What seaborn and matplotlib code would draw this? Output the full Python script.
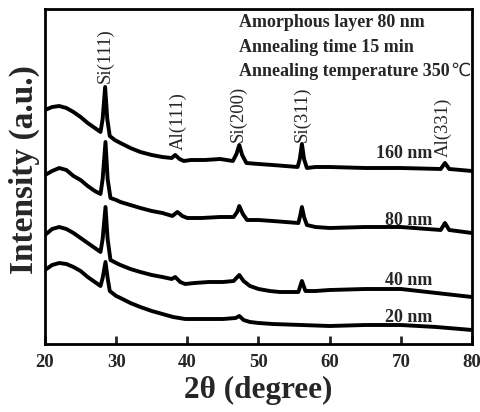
import numpy as np
import pandas as pd
import matplotlib
matplotlib.use("Agg")
import matplotlib.pyplot as plt
import seaborn as sns
from matplotlib.transforms import offset_copy

# ---- data (intensities in arbitrary units) ----
tt_160 = [20.0, 21.0, 22.0, 23.0, 24.0, 25.0, 26.0, 27.0, 27.8, 28.1, 28.45, 28.75, 29.1, 29.8,
          30.6, 32.0, 33.4, 35.0, 36.5, 37.8, 38.3, 38.9, 39.5, 40.5, 42.5, 44.6, 46.4, 46.9,
          47.3, 47.7, 48.3, 50.0, 52.0, 55.5, 55.8, 56.1, 56.4, 56.8, 58.0, 60.0, 65.0, 70.0,
          75.6, 76.2, 76.8, 80.0]
i_160 = [234, 237, 238, 236, 232, 227, 221, 216, 212, 225, 257, 225, 208, 204,
         201, 196, 192, 189, 187, 186, 189, 185, 183, 184, 184, 185, 183, 190,
         199, 189, 181, 180, 179, 177, 185, 200, 185, 176, 177, 177, 176, 176,
         175, 181, 175, 173]

tt_80 = [20.0, 21.0, 22.0, 23.0, 24.0, 25.0, 26.0, 27.0, 27.8, 28.1, 28.5, 28.8, 29.2, 30.0,
         30.6, 32.0, 33.4, 35.0, 36.5, 37.9, 38.6, 39.3, 40.0, 42.0, 44.6, 46.5, 47.0, 47.3,
         47.8, 48.4, 50.0, 52.0, 55.6, 55.85, 56.1, 56.4, 56.8, 58.0, 60.0, 65.0, 70.0, 75.6,
         76.2, 76.8, 80.0]
i_80 = [169, 173, 176, 174, 168, 164, 158, 153, 150, 165, 202, 165, 146, 144,
        142, 139, 136, 133, 131, 128, 132, 128, 126, 126, 127, 127, 132, 138,
        130, 124, 124, 123, 121, 128, 137, 127, 119, 117, 116, 117, 117, 114,
        121, 114, 111]

tt_40 = [20.0, 21.0, 22.0, 23.0, 24.0, 25.0, 26.0, 27.0, 27.8, 28.1, 28.5, 28.8, 29.2, 30.0,
         30.6, 32.0, 33.4, 35.0, 36.5, 37.8, 38.3, 39.0, 39.7, 41.0, 43.0, 45.0, 46.5, 47.3,
         47.9, 48.8, 50.0, 51.6, 53.0, 55.6, 56.1, 56.6, 58.0, 60.0, 65.0, 70.0, 75.0, 80.0]
i_40 = [109, 115, 117, 115, 111, 106, 101, 96, 92, 105, 137, 105, 84, 81,
        79, 75, 72, 69, 67, 65, 67, 62, 60, 61, 62, 62, 63, 69,
        63, 58, 55, 53, 52, 52, 63, 53, 53, 54, 55, 55, 51, 47]

tt_20 = [20.0, 21.0, 22.0, 23.0, 24.0, 25.0, 26.0, 27.0, 27.8, 28.1, 28.5, 28.8, 29.1, 30.0,
         30.6, 32.0, 33.4, 35.0, 36.5, 38.0, 39.7, 41.0, 43.0, 45.0, 46.8, 47.3, 47.9, 48.8,
         50.0, 52.0, 56.0, 60.0, 65.0, 70.0, 75.0, 80.0]
i_20 = [74, 79, 81, 80, 77, 73, 67, 62, 58, 66, 82, 66, 53, 48,
        46, 41, 37, 33, 30, 27, 25, 25, 25, 25, 26, 28, 24, 22,
        21, 20, 19, 18, 19, 19, 17, 14]

thickness_labels = ["160 nm", "80 nm", "40 nm", "20 nm"]
peak_labels = ["Si(111)", "Al(111)", "Si(200)", "Si(311)", "Al(331)"]
peak_positions = [28.5, 38.7, 47.15, 56.15, 76.0]
info_lines = ["Amorphous layer 80 nm", "Annealing time 15 min", "Annealing temperature 350"]
degree_sign = "\u2103"
x_ticks = [20, 30, 40, 50, 60, 70, 80]

# ---- build long-form table ----
frames = []
for lab, tt, ii in zip(thickness_labels, [tt_160, tt_80, tt_40, tt_20], [i_160, i_80, i_40, i_20]):
    frames.append(pd.DataFrame({"two_theta": tt, "intensity": ii, "thickness": lab}))
df = pd.concat(frames, ignore_index=True)

sns.set_style("ticks")
plt.rcParams["font.family"] = ["Liberation Serif", "DejaVu Serif"]

fig = plt.figure(figsize=(4.81, 4.12), dpi=100)
ax = fig.add_axes([45 / 481, 68 / 412, 427 / 481, 335 / 412])

sns.lineplot(data=df, x="two_theta", y="intensity", hue="thickness",
             palette=["black"] * 4, linewidth=2.8, legend=False, ax=ax,
             sort=False, estimator=None)

ax.set_xlim(20, 80)
ax.set_ylim(0, 335)
ax.set_xticks(x_ticks)
ax.set_xticklabels([str(t) for t in x_ticks], fontsize=13.5, fontweight="bold")
ax.set_yticks([])
ax.tick_params(axis="x", direction="in", length=6, width=2, pad=7)
for s in ax.spines.values():
    s.set_linewidth(2)
    s.set_color("black")

ax.set_xlabel("2\u03b8 (degree)", fontsize=22.5, fontweight="bold")
ax.xaxis.set_label_coords(0.5, -0.095)
ax.set_ylabel("Intensity (a.u.)", fontsize=24, fontweight="bold")
ax.yaxis.set_label_coords(-0.012, 0.52)

# peak labels (rotated)
label_bottoms = [261, 194, 202, 202, 187]
for lab, xp, yb in zip(peak_labels, peak_positions, label_bottoms):
    ax.text(xp, yb, lab, rotation=90, ha="center", va="bottom", fontsize=13.5)

# thickness labels
label_base = [186, 119, 59, 22]
for lab, yb in zip(thickness_labels, label_base):
    ax.text(74.5, yb, lab, ha="right", va="baseline", fontsize=13, fontweight="bold")

# info text
last = None
for k, line in enumerate(info_lines):
    last = ax.text(47.3, 317 - 24.5 * k, line, ha="left", va="baseline",
                   fontsize=13, fontweight="bold")
fig.canvas.draw()
bb = last.get_window_extent()
xd, _ = ax.transData.inverted().transform((bb.x1, bb.y0))
ax.text(xd, 317 - 24.5 * 2, degree_sign, ha="left", va="baseline",
        fontsize=13, family=["DejaVu Sans"], fontweight="normal",
        transform=offset_copy(ax.transData, fig=fig, x=0.5, y=0, units="points"))

fig.savefig("out.png", dpi=100)
